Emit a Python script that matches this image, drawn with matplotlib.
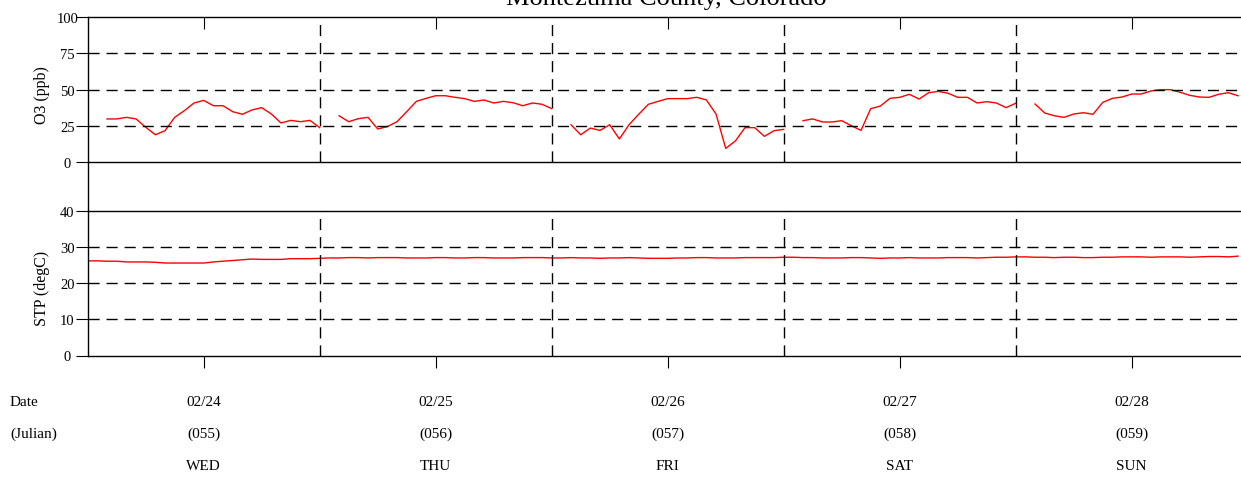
"""Hourly O3 and station temperature, Montezuma County, Colorado (02/24 - 02/28)."""

import matplotlib

matplotlib.use("Agg")
import matplotlib.pyplot as plt
import numpy as np
from matplotlib.lines import Line2D

nan = np.nan

# hourly ozone [ppb], hour 1 of every day is missing (calibration)
o3_wed = [31.0, nan, 29.7, 29.7, 30.8, 29.7, 24.0, 18.8, 21.6, 30.8, 35.4, 40.7,
          42.5, 38.8, 38.8, 34.7, 32.9, 35.9, 37.5, 33.1, 26.9, 28.7, 27.8, 28.7]
o3_thu = [23.7, nan, 31.9, 27.8, 29.9, 30.8, 22.8, 24.4, 27.8, 34.7, 41.8, 43.9,
          45.7, 45.7, 44.6, 43.7, 41.8, 42.8, 40.7, 41.8, 40.9, 38.8, 40.7, 39.8]
o3_fri = [36.8, nan, 25.7, 18.8, 23.4, 21.8, 25.7, 15.9, 25.7, 32.9, 39.8, 41.8,
          43.7, 43.7, 43.7, 44.6, 42.8, 33.1, 9.4, 14.5, 23.7, 23.7, 17.7, 21.6]
o3_sat = [22.5, nan, 28.5, 29.7, 27.6, 27.6, 28.5, 25.0, 21.8, 36.8, 38.6, 43.9,
          44.6, 46.7, 43.4, 47.8, 48.7, 47.4, 44.6, 44.6, 40.7, 41.6, 40.7, 37.5]
o3_sun = [40.5, nan, 40.0, 33.8, 31.9, 30.8, 33.1, 34.0, 32.9, 41.1, 43.9, 44.8,
          46.9, 46.9, 49.0, 49.9, 49.9, 48.1, 46.0, 44.8, 44.6, 46.7, 47.8, 45.7]

# hourly shelter temperature [degC]
stp_wed = [26.2, 26.2, 26.1, 26.1, 25.9, 25.9, 25.9, 25.8, 25.6, 25.6, 25.6, 25.6,
           25.6, 25.9, 26.1, 26.3, 26.5, 26.7, 26.6, 26.6, 26.6, 26.8, 26.8, 26.8]
stp_thu = [26.9, 27.0, 27.0, 27.1, 27.1, 27.0, 27.1, 27.1, 27.1, 27.0, 27.0, 27.0,
           27.1, 27.1, 27.0, 27.0, 27.1, 27.1, 27.0, 27.0, 27.0, 27.1, 27.1, 27.1]
stp_fri = [27.0, 27.0, 27.1, 27.0, 27.0, 26.9, 27.0, 27.0, 27.1, 27.0, 26.9, 26.9,
           26.9, 27.0, 27.0, 27.1, 27.1, 27.0, 27.0, 27.0, 27.1, 27.1, 27.1, 27.1]
stp_sat = [27.2, 27.2, 27.1, 27.1, 27.0, 27.0, 27.0, 27.1, 27.1, 27.0, 26.9, 27.0,
           27.0, 27.1, 27.0, 27.0, 27.0, 27.1, 27.1, 27.1, 27.0, 27.1, 27.2, 27.2]
stp_sun = [27.3, 27.3, 27.2, 27.2, 27.1, 27.2, 27.2, 27.1, 27.1, 27.2, 27.2, 27.3,
           27.3, 27.3, 27.2, 27.3, 27.3, 27.3, 27.2, 27.3, 27.4, 27.4, 27.3, 27.5]

dates = ["02/24", "02/25", "02/26", "02/27", "02/28"]
julian = ["(055)", "(056)", "(057)", "(058)", "(059)"]
weekdays = ["WED", "THU", "FRI", "SAT", "SUN"]

o3_ticks = [0, 25, 50, 75, 100]
stp_ticks = [0, 10, 20, 30, 40]

W, H = 1241, 481
SERIF = ["Liberation Serif", "DejaVu Serif"]


def fx(px):
    return px / W


def fy(py):
    return 1.0 - py / H


def main() -> None:
    plt.rcParams["font.family"] = SERIF
    plt.rcParams["lines.scale_dashes"] = False

    o3 = np.array(o3_wed + o3_thu + o3_fri + o3_sat + o3_sun, dtype=float)
    stp = np.array(stp_wed + stp_thu + stp_fri + stp_sat + stp_sun, dtype=float)
    hours = np.arange(o3.size)
    n_days = len(dates)

    fig = plt.figure(figsize=(W / 100, H / 100), dpi=100)
    left, width = fx(87.7), 1160 / W
    ax1 = fig.add_axes([left, fy(163), width, 145 / H])
    ax2 = fig.add_axes([left, fy(356.5), width, 144.5 / H])

    for ax, values, ticks in ((ax1, o3, o3_ticks), (ax2, stp, stp_ticks)):
        ax.plot(hours, values, color="red", linewidth=1.0)
        ax.set_xlim(0, 24 * n_days)
        ax.set_ylim(ticks[0], ticks[-1])
        ax.set_yticks(ticks)
        for val in ticks[1:-1]:
            ax.axhline(val, color="black", linewidth=1.0, dashes=(8, 5))
        for day in range(1, n_days):
            ax.axvline(24 * day, color="black", linewidth=1.0, dashes=(8, 5))
        ax.set_xticks([24 * d + 12 for d in range(n_days)])
        ax.tick_params(axis="y", direction="out", length=8.6, width=0.8, pad=6.0, labelsize=10.5)
        for label in ax.get_yticklabels():
            label.set_horizontalalignment("center")
        for side in ("top", "bottom", "left"):
            ax.spines[side].set_linewidth(1.0)
        ax.spines["right"].set_visible(False)

    ax1.tick_params(axis="x", which="both", bottom=False, top=True, direction="in",
                    length=8.6, width=0.8, labelbottom=False, labeltop=False)
    ax2.tick_params(axis="x", which="both", bottom=True, top=False, direction="out",
                    length=8.6, width=0.8, labelbottom=False)

    # left axis line runs through the gap between the two panels
    fig.add_artist(Line2D([left, left], [fy(163), fy(212)], transform=fig.transFigure,
                          color="black", linewidth=1.0))

    fig.text(fx(666.5), fy(5), "Montezuma County, Colorado", ha="center", va="baseline", fontsize=19)
    fig.text(fx(42.5), fy(95), "O3 (ppb)", rotation=90, ha="center", va="center", fontsize=11.5)
    fig.text(fx(42.5), fy(288), "STP (degC)", rotation=90, ha="center", va="center", fontsize=11.5)

    rows = [(403, "Date", dates), (434, "(Julian)", julian), (466, None, weekdays)]
    for row_y, head, labels in rows:
        if head:
            fig.text(fx(10), fy(row_y), head, ha="left", va="center", fontsize=11)
        for d, text in enumerate(labels):
            x_px = 87.7 + (d + 0.5) * 232.0
            fig.text(fx(x_px), fy(row_y), text, ha="center", va="center", fontsize=11)

    fig.savefig("out.png", dpi=100)
    plt.close(fig)


if __name__ == "__main__":
    main()
